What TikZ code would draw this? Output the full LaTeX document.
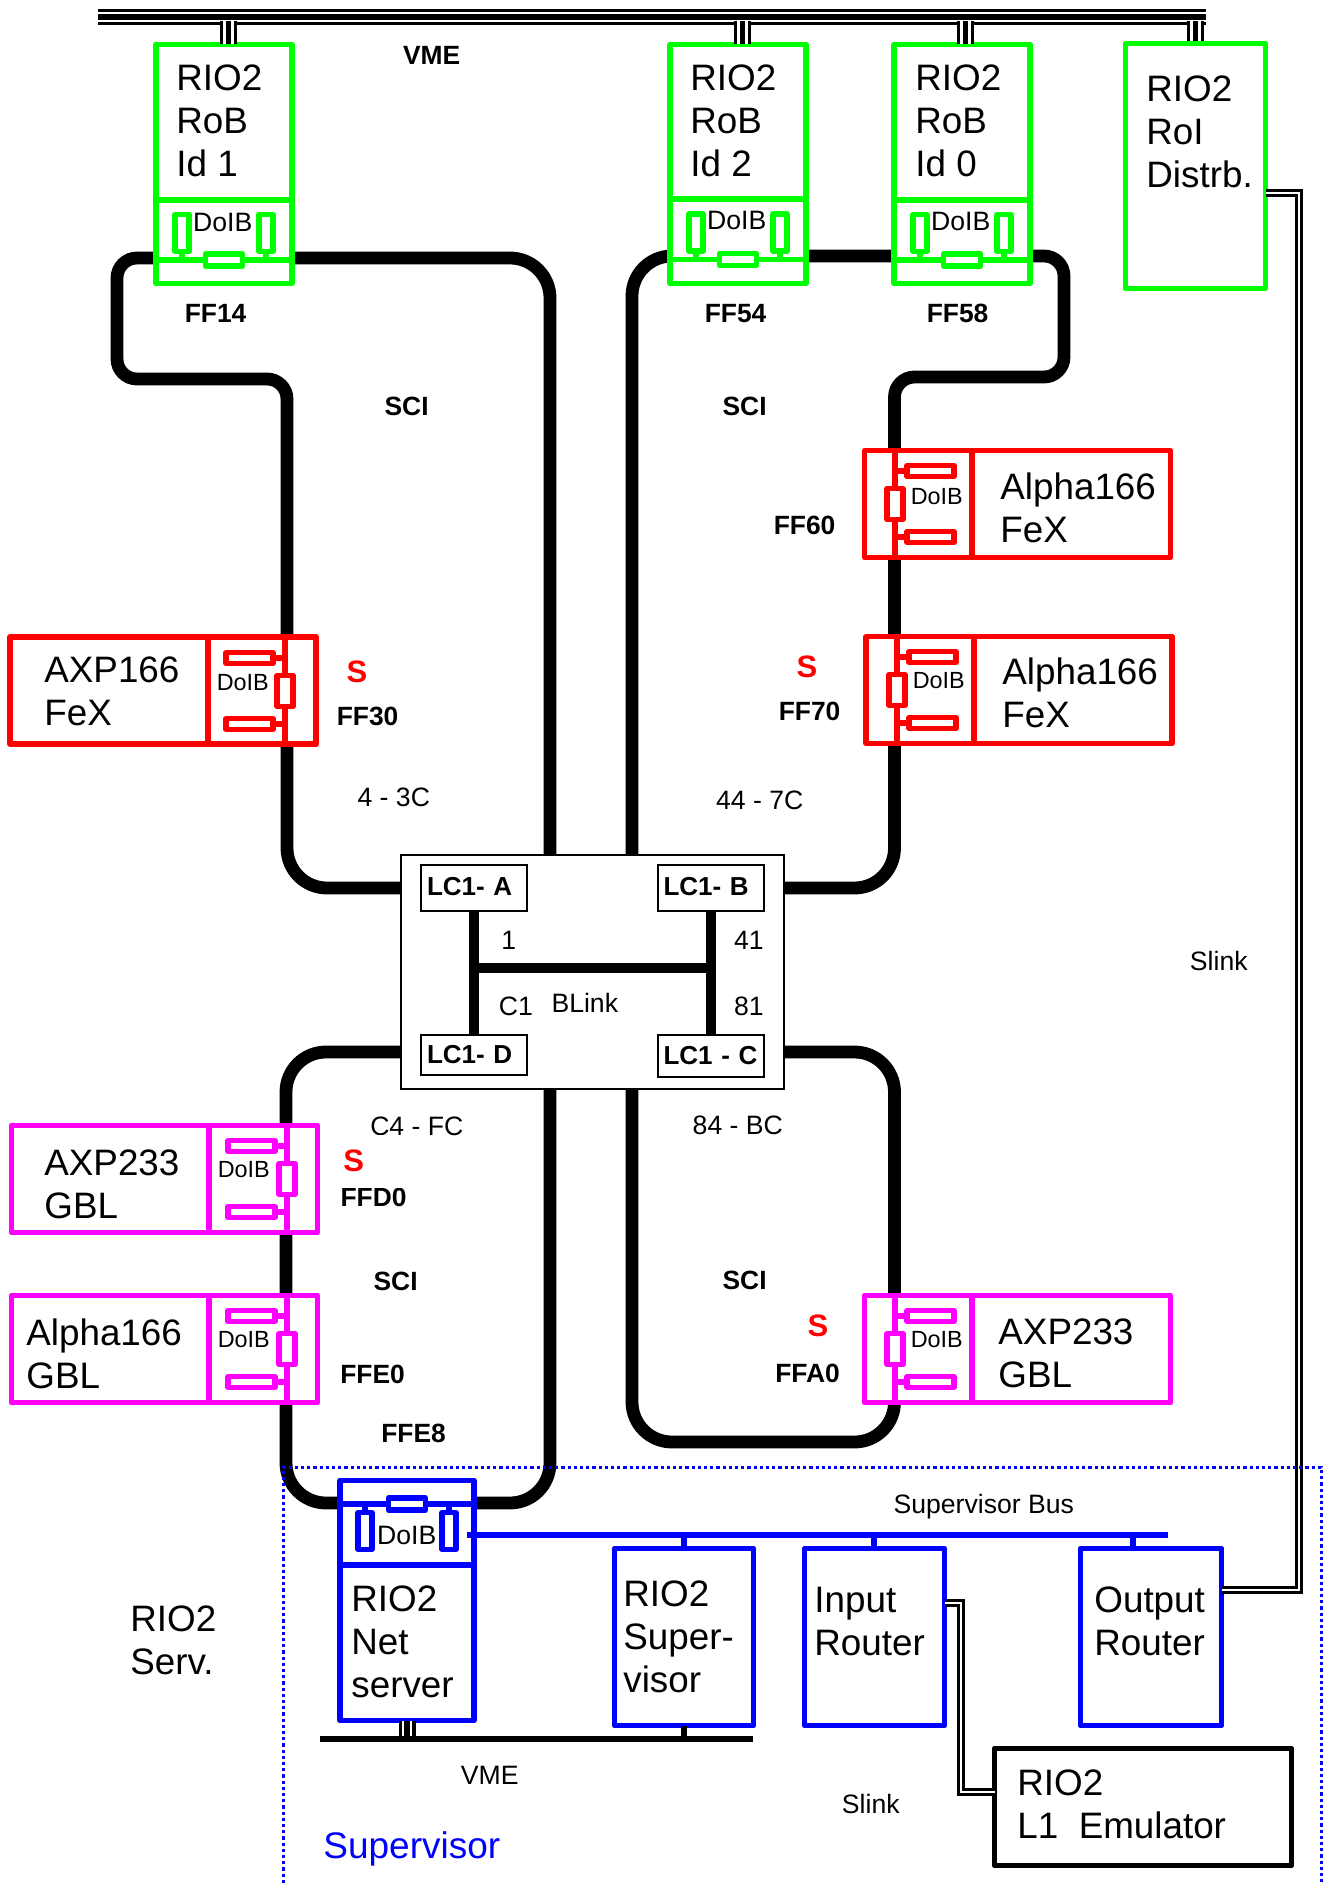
\documentclass[tikz,border=0pt]{standalone}
\usepackage{fontspec}
\setmainfont{Liberation Sans}
\usepackage{xcolor}
\definecolor{cGreen}{HTML}{00FF00}
\definecolor{cRed}{HTML}{FF0000}
\definecolor{cPink}{HTML}{FF00FF}
\definecolor{cBlue}{HTML}{0000FF}
\usepackage{tikz}
\usetikzlibrary{positioning,backgrounds}
\newcommand{\doibshape}[7]{
  \draw[doib-line] (-#1,0) -- (#1,0);
  \foreach \s in {-1,1} {
    \draw[doib-line] (\s*#2,0) -- (\s*#2,-#3);
    \draw[doib-part] (\s*#2-#5/2,-#3) rectangle (\s*#2+#5/2,-#3-#4);
  }
  \draw[doib-part] (-#6/2,-#7/2) rectangle (#6/2,#7/2);
}
\tikzset{
  node-unit/.style={draw,fill=white,line width=2.8pt,line join=round,
    inner sep=0pt,outer sep=0pt},
  node-rob/.style={node-unit,draw=cGreen,minimum width=68pt,minimum height=119.5pt},
  node-fex/.style={node-unit,draw=cRed,minimum width=153pt,minimum height=53.5pt},
  node-gbl/.style={node-unit,draw=cPink,minimum width=153pt,minimum height=53.5pt},
  node-sup/.style={node-unit,draw=cBlue,minimum height=88.5pt},
  node-lc/.style={draw,fill=white,line width=1pt,font=\fontsize{13}{15}\selectfont\bfseries,
    text width=47pt,align=left,inner xsep=3pt,inner ysep=0pt,outer sep=0pt,
    minimum height=23pt},
  node-ring/.style={draw=black,fill=white,line width=1pt,inner sep=0pt,outer sep=0pt},
  txt-big/.style={font=\fontsize{18.4}{21.5}\selectfont,align=left,inner sep=0pt,
    anchor=north west,yshift=-2.4pt},
  txt-small/.style={font=\fontsize{13.3}{15}\selectfont,inner sep=0pt,xshift=.4pt,yshift=-.4pt},
  txt-doib/.style={font=\fontsize{11.7}{14}\selectfont,inner sep=0pt,xshift=.4pt,yshift=-.3pt},
  txt-bold/.style={font=\fontsize{13.2}{15}\selectfont\bfseries,inner sep=0pt,xshift=.3pt,yshift=-.4pt},
  txt-s/.style={font=\fontsize{15.5}{17}\selectfont\bfseries,text=cRed,inner sep=0pt},
  doib-line/.style={line width=2.6pt},
  doib-part/.style={line width=2.6pt,fill=white,line join=round},
  unit-div/.style={line width=2.8pt},
  unit-divb/.style={line width=3pt},
  sci/.style={line width=6.4pt,draw=black},
  blink/.style={line width=5pt,draw=black},
  sup-bus/.style={line width=3pt,draw=cBlue},
  vme-bus/.style={line width=8pt,draw=black,
    postaction={draw=white,line width=5pt},postaction={draw=black,line width=3.3pt}},
  vme-stub/.style={line width=8.5pt,draw=black,
    postaction={draw=white,line width=5.2pt},postaction={draw=black,line width=2.8pt}},
  slink/.style={draw=black,line width=1.5pt,double,double distance=1pt},
  pics/doib-top/.style={code={\doibshape{67}{42}{8.5}{37}{14}{37}{12}}},
  pics/doib-side/.style={code={\doibshape{54}{33}{12}{47}{11}{31}{16}}},
}
\begin{document}
\begin{tikzpicture}[x=.5pt,y=-.5pt]
  \useasboundingbox (0,0) rectangle (1329,1883);
  \node[node-ring,minimum width=191.5pt,minimum height=117pt] (lc) at (592.5,972) {};
  \begin{scope}[on background layer]
    \draw[sci,rounded corners=20pt] (lc.west |- 0,888) -- (287,888)
      [rounded corners=10pt] -- (287,379) -- (117,379) -- (117,258)
      [rounded corners=20pt] -- (550,258) -- (550,0 |- lc.north);
    \draw[sci,rounded corners=20pt] (lc.east |- 0,888) -- (894.5,888)
      [rounded corners=10pt] -- (894.5,377) -- (1064,377) -- (1064,256)
      [rounded corners=20pt] -- (632,256) -- (632,0 |- lc.north);
    \draw[sci,rounded corners=20pt] (lc.west |- 0,1052) -- (286,1052) -- (286,1503)
      -- (550,1503) -- (550,0 |- lc.south);
    \draw[sci,rounded corners=20pt] (lc.east |- 0,1052) -- (894.5,1052) -- (894.5,1442)
      -- (632,1442) -- (632,0 |- lc.south);
  \end{scope}
  \node[node-lc] (lca) at (474,887.5) {\raisebox{1.1pt}{LC1- A}};
  \node[node-lc] (lcb) at (710.5,887.5) {\raisebox{1.1pt}{LC1- B}};
  \node[node-lc,minimum height=20pt] (lcd) at (474,1055) {LC1- D};
  \node[node-lc,minimum height=21pt] (lcc) at (710.5,1056) {LC1 - C};
  \draw[blink] (lca) -- (lcd);
  \draw[blink] (lcb) -- (lcc);
  \draw[blink] (lca |- 0,968) -- (lcb |- 0,968);
  \node[txt-small] at (508,940) {1};
  \node[txt-small] at (748,940) {41};
  \node[txt-small] at (515,1006) {C1};
  \node[txt-small] at (584,1002) {BLink};
  \node[txt-small] at (748,1006) {81};

  \coordinate (vl) at (98,17.2);
  \coordinate (vr) at (1206,17.2);
  \coordinate (vs) at (0,21);
  \draw[vme-bus] (vl) -- (vr);
  \node[node-rob] (rob1) at (224,164) {};
  \node[node-rob] (rob2) at (738,164) {};
  \node[node-rob] (rob0) at (962,164) {};
  \node[node-rob,minimum width=70pt,minimum height=122.5pt] (roi) at (1195.5,166) {};
  \foreach \n/\d in {rob1/200,rob2/199,rob0/200}
    \draw[unit-div,cGreen] (\n.west |- 0,\d) -- (\n.east |- 0,\d);
  \draw[vme-stub] ([xshift=2.25pt]rob1.north) -- ([xshift=2.25pt]rob1.north |- vs);
  \draw[vme-stub] ([xshift=2.25pt]rob2.north) -- ([xshift=2.25pt]rob2.north |- vs);
  \draw[vme-stub] ([xshift=1.75pt]rob0.north) -- ([xshift=1.75pt]rob0.north |- vs);
  \draw[vme-stub] ([yshift=1pt]roi.north) -- (roi.north |- vs);
  \pic[color=cGreen] at (224,260) {doib-top};
  \pic[color=cGreen] at (738,259.5) {doib-top};
  \pic[color=cGreen] at (962,260) {doib-top};
  \node[txt-big] (tr1) at (176,60) {RIO2\\RoB\\Id 1};
  \node[txt-big] (tr2) at (690,60) {RIO2\\RoB\\Id 2};
  \node[txt-big] (tr0) at (915,60) {RIO2\\RoB\\Id 0};
  \node[txt-big] (tri) at (1146,71) {RIO2\\RoI\\Distrb.};
  \node[txt-small] at (222,222) {DoIB};
  \node[txt-small] at (736,220) {DoIB};
  \node[txt-small] at (960,221) {DoIB};
  \node[txt-bold] at (431,55) {VME};
  \node[txt-bold] at (215,313) {FF14};
  \node[txt-bold] at (735,313) {FF54};
  \node[txt-bold] at (957,313) {FF58};
  \node[txt-bold] at (406,406) {SCI};
  \node[txt-bold] at (744,406) {SCI};

  \node[node-fex] (axp) at (163.25,690.5) {};
  \node[node-fex] (fa) at (1017.5,504) {};
  \node[node-fex] (fb) at (1019.25,690) {};
  \node[node-gbl] (axg) at (164.5,1179) {};
  \node[node-gbl] (alg) at (164.5,1349) {};
  \node[node-gbl] (axr) at (1017.5,1349) {};
  \draw[unit-divb,cRed] (208,0 |- axp.north) -- (208,0 |- axp.south);
  \draw[unit-divb,cRed] (972,0 |- fa.north) -- (972,0 |- fa.south);
  \draw[unit-divb,cRed] (974,0 |- fb.north) -- (974,0 |- fb.south);
  \draw[unit-divb,cPink] (209,0 |- axg.north) -- (209,0 |- axg.south);
  \draw[unit-divb,cPink] (209,0 |- alg.north) -- (209,0 |- alg.south);
  \draw[unit-divb,cPink] (972,0 |- axr.north) -- (972,0 |- axr.south);
  \pic[color=cRed,rotate=90] at (285,691) {doib-side};
  \pic[color=cRed,rotate=-90] at (895,504) {doib-side};
  \pic[color=cRed,rotate=-90] at (897,690) {doib-side};
  \pic[color=cPink,rotate=90] at (287,1179) {doib-side};
  \pic[color=cPink,rotate=90] at (287,1349) {doib-side};
  \pic[color=cPink,rotate=-90] at (895,1349) {doib-side};
  \node[txt-doib] at (242,682) {DoIB};
  \node[txt-doib] at (936,496) {DoIB};
  \node[txt-doib] at (938,680) {DoIB};
  \node[txt-doib] at (243,1169) {DoIB};
  \node[txt-doib] at (243,1339) {DoIB};
  \node[txt-doib] at (936,1339) {DoIB};
  \node[txt-big] (ta) at (44,652) {AXP166\\FeX};
  \node[txt-big] (tfa) at (1000,468) {Alpha166\\FeX};
  \node[txt-big] (tfb) at (1002,653) {Alpha166\\FeX};
  \node[txt-big] (tg) at (44,1145) {AXP233\\GBL};
  \node[txt-big] (tl) at (26,1314) {Alpha166\\GBL};
  \node[txt-big] (tr) at (998,1314) {AXP233\\GBL};
  \node[txt-bold] at (367,716) {FF30};
  \node[txt-bold] at (804,525) {FF60};
  \node[txt-bold] at (809,711) {FF70};
  \node[txt-bold] at (373,1197) {FFD0};
  \node[txt-bold] at (372,1374) {FFE0};
  \node[txt-bold] at (413,1433) {FFE8};
  \node[txt-bold] at (807,1373) {FFA0};
  \node[txt-bold] at (395,1281) {SCI};
  \node[txt-bold] at (744,1280) {SCI};
  \node[txt-small] at (393,797) {4 - 3C};
  \node[txt-small] at (759,800) {44 - 7C};
  \node[txt-small] at (416,1126) {C4 - FC};
  \node[txt-small] at (737,1125) {84 - BC};
  \node[txt-s] at (357,672) {S};
  \node[txt-s] at (807,667) {S};
  \node[txt-s] at (818,1326) {S};
  \node[txt-s,fill=white,text width=32pt,align=left,inner xsep=1.5pt,minimum height=26.5pt,
    anchor=west] at (340,1161) {S};

  \node[node-sup,minimum width=67pt,minimum height=120pt] (net) at (407,1600.5) {};
  \node[node-sup,minimum width=69.5pt] (sup) at (684,1637) {};
  \node[node-sup,minimum width=70pt] (inp) at (874.5,1637) {};
  \node[node-sup,minimum width=70.5pt] (out) at (1151,1637) {};
  \node[node-unit,minimum width=148.5pt,minimum height=58.5pt] (emu) at (1143,1807) {};
  \draw[unit-div,cBlue] (net.west |- 0,1565) -- (net.east |- 0,1565);
  \pic[color=cBlue,rotate=180] at (407,1504) {doib-top};
  \node[txt-small] at (406,1535) {DoIB};
  \coordinate (sbl) at (467,1535);
  \coordinate (sbr) at (1168,1535);
  \draw[sup-bus] (sbl) -- (sbr);
  \draw[sup-bus] (sup.north) -- (sup.north |- sbl);
  \draw[sup-bus] (874,0 |- inp.north) -- (874,0 |- sbl);
  \draw[sup-bus] (1133,0 |- out.north) -- (1133,0 |- sbl);
  \coordinate (vbl) at (320,1739);
  \coordinate (vbr) at (753,1739);
  \draw[line width=3pt] (vbl) -- (vbr);
  \draw[vme-stub] (net.south) -- (net.south |- 0,1736);
  \draw[line width=3pt] (sup.south) -- (sup.south |- vbl);
  \draw[slink] (roi.east |- 0,193) -- (1299,193) -- (1299,1589.5) -- (out.east |- 0,1589.5);
  \draw[slink] (inp.east |- 0,1603) -- (960.5,1603) -- (960.5,1792) -- (emu.west |- 0,1792);
  \node[txt-big] (tn) at (351,1581) {RIO2\\Net\\server};
  \node[txt-big] (ts) at (623,1576) {RIO2\\Super-\\visor};
  \node[txt-big] (ti) at (814,1582) {Input\\Router};
  \node[txt-big] (to) at (1094,1582) {Output\\Router};
  \node[txt-big] (te) at (1017,1765) {RIO2\\L1\ \ Emulator};
  \node[txt-big] (tv) at (130,1601) {RIO2\\Serv.};
  \node[txt-big,font=\fontsize{18.5}{21.5}\selectfont,text=cBlue] (tsu) at (323,1826) {Supervisor};
  \node[txt-small] at (983,1506) {Supervisor Bus};
  \node[txt-small] at (489,1775) {VME};
  \node[txt-small] at (870,1803) {Slink};
  \node[txt-small] at (1218,960) {Slink};
  \draw[cBlue,line width=1.5pt,dash pattern=on 1.6pt off 1.5pt]
    (283,1883) -- (283,1467) -- (1321,1467) -- (1321,1883);
\end{tikzpicture}
\end{document}
